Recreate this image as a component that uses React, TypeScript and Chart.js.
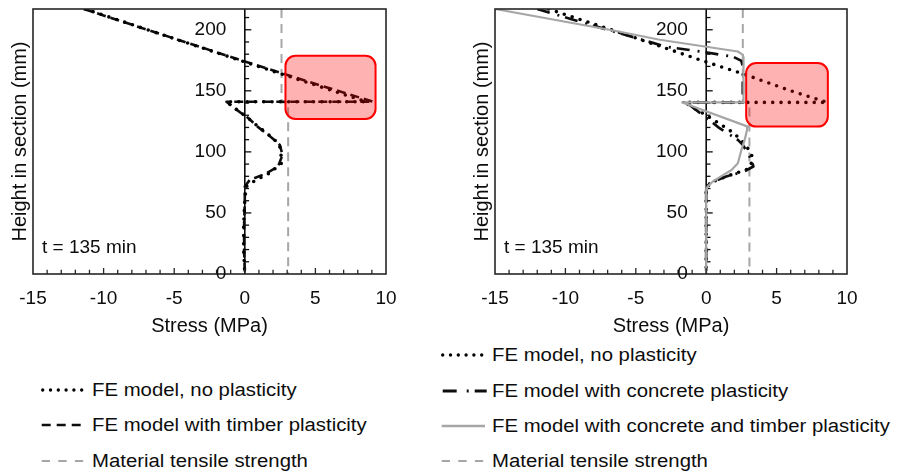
import React, { useEffect, useRef } from "react";
import { Chart, registerables } from "chart.js";

Chart.register(...registerables);

const FONT = "'Liberation Sans', Arial, Helvetica, sans-serif";
const INK = "#0d0d0d";
const GRAY = "#a6a6a6";

// ---------- axes ----------
const stressTicks = [-15, -10, -5, 0, 5, 10];
const heightTicks = [0, 50, 100, 150, 200];
const stressRange = [-15, 10];
const heightRange = [0, 217];
const timeNote = "t = 135 min";

// ---------- left panel ----------
const leftNoPlasticityHeight = [217, 200, 174, 160, 141, 141, 137, 131.7, 129, 120.7, 111.2, 105.7, 100.3, 90.7, 82.5, 77, 71.6, 60.7, 40, 20, 0];
const leftNoPlasticityStress = [-11.3, -6.9, -0.1, 3.6, 8.6, -1.3, -0.85, -0.25, 0.1, 0.95, 2.0, 2.45, 2.55, 2.6, 1.75, 0.8, 0.1, 0, -0.08, -0.08, 0];

const leftTimberHeight = [217, 200, 174, 160, 141, 141, 137, 131.7, 129, 120.7, 111.2, 105.7, 97.5, 88, 82.5, 77, 71.6, 60, 40, 20, 0];
const leftTimberStress = [-11.4, -6.9, 0.0, 3.8, 9.1, -1.3, -0.85, -0.25, 0.12, 0.9, 1.95, 2.48, 2.67, 2.36, 1.54, 0.35, 0, 0, -0.05, -0.05, 0];

const tensileHeight = [217, 140.5, 140.5, 0];
const tensileStress = [2.6, 2.6, 3.07, 3.07];

const leftBoxStress = [2.88, 9.26];
const leftBoxHeight = [127, 178.7];

// ---------- right panel ----------
const rightNoPlasticityHeight = [217, 196, 174, 163, 150, 140.5, 140.5, 136, 130, 122, 115, 107, 99, 93, 86, 82.5, 79.8, 75.7, 71, 50, 20, 0];
const rightNoPlasticityStress = [-11.2, -5.7, -0.1, 2.85, 6.0, 8.6, -1.5, -0.9, 0, 1.1, 2.0, 2.7, 3.2, 3.3, 3.0, 2.1, 1.4, 0.5, 0, 0, 0, 0];

const rightConcreteHeight = [217, 205, 186, 182, 178, 174.5, 170, 140.5, 140.5, 138.5, 129, 119.4, 109.8, 105.7, 98.9, 93.4, 88, 84, 79.8, 74.3, 70, 0];
const rightConcreteStress = [-12.0, -8.5, -2.8, -0.3, 1.9, 2.5, 2.6, 2.6, -1.6, -1.2, -0.1, 0.95, 2.25, 2.6, 2.96, 3.2, 3.35, 2.7, 1.42, 0.24, 0, 0];

const rightBothHeight = [217, 199, 191.8, 182.2, 179.5, 177, 140.5, 140.5, 120.7, 118, 109.8, 101.6, 90.7, 85.2, 81, 75.7, 71.6, 69, 0];
const rightBothStress = [-15, -6.4, -3.3, 2.25, 2.6, 2.65, 2.65, -1.7, 2.96, 2.9, 2.73, 2.5, 2.25, 1.8, 1.2, 0.47, 0.1, 0, 0];

const rightBoxStress = [2.84, 8.64];
const rightBoxHeight = [120.7, 172.7];

// ---------- legend labels ----------
const lblNoPlasticity = "FE model, no plasticity";
const lblTimber = "FE model with timber plasticity";
const lblConcrete = "FE model with concrete plasticity";
const lblBoth = "FE model with concrete and timber plasticity";
const lblTensile = "Material tensile strength";

const pts = (xs: number[], ys: number[]) => xs.map((x, i) => ({ x, y: ys[i] }));

const STYLE_DOTTED = { borderColor: "#000000", borderWidth: 3.6, borderDash: [0, 8.3], borderCapStyle: "round" };
const STYLE_DASHED = { borderColor: INK, borderWidth: 2.6, borderDash: [9, 5], borderCapStyle: "butt" };
const STYLE_DASHDOT = { borderColor: INK, borderWidth: 2.7, borderDash: [13, 8, 2, 6], borderCapStyle: "butt" };
const STYLE_GRAY = { borderColor: GRAY, borderWidth: 2.2, borderDash: [], borderCapStyle: "butt" };
const STYLE_TENSILE = { borderColor: GRAY, borderWidth: 2, borderDash: [9, 6], borderCapStyle: "butt" };

function ds(label: string, xs: number[], ys: number[], style: any) {
  return {
    label,
    data: pts(xs, ys),
    showLine: true,
    pointRadius: 0,
    pointHoverRadius: 0,
    fill: false,
    tension: 0,
    borderJoinStyle: "round",
    ...style,
  };
}

function roundRectPath(ctx: CanvasRenderingContext2D, x: number, y: number, w: number, h: number, r: number) {
  ctx.beginPath();
  ctx.moveTo(x + r, y);
  ctx.lineTo(x + w - r, y);
  ctx.arcTo(x + w, y, x + w, y + r, r);
  ctx.lineTo(x + w, y + h - r);
  ctx.arcTo(x + w, y + h, x + w - r, y + h, r);
  ctx.lineTo(x + r, y + h);
  ctx.arcTo(x, y + h, x, y + h - r, r);
  ctx.lineTo(x, y + r);
  ctx.arcTo(x, y, x + r, y, r);
  ctx.closePath();
}

function decorPlugin(boxStress: number[], boxHeight: number[]) {
  return {
    id: "decor",
    beforeDatasetsDraw(chart: any) {
      const { ctx, chartArea: a, scales } = chart;
      const sx = scales.x;
      const sy = scales.y;
      const x0 = sx.getPixelForValue(0);
      ctx.save();
      ctx.strokeStyle = INK;
      ctx.lineWidth = 1.6;
      ctx.beginPath();
      ctx.moveTo(x0, a.bottom);
      ctx.lineTo(x0, a.top);
      ctx.stroke();
      ctx.lineWidth = 1.3;
      for (let v = heightRange[0] + 10; v <= heightRange[1]; v += 10) {
        const py = sy.getPixelForValue(v);
        const len = v % 50 === 0 ? 6.5 : 4.3;
        ctx.beginPath();
        ctx.moveTo(x0, py);
        ctx.lineTo(x0 + len, py);
        ctx.stroke();
      }
      ctx.restore();
    },
    afterDatasetsDraw(chart: any) {
      const { ctx, chartArea: a, scales } = chart;
      const sx = scales.x;
      const sy = scales.y;
      const x0 = sx.getPixelForValue(0);
      ctx.save();
      // highlight box
      const bx1 = sx.getPixelForValue(boxStress[0]);
      const bx2 = sx.getPixelForValue(boxStress[1]);
      const by1 = sy.getPixelForValue(boxHeight[1]);
      const by2 = sy.getPixelForValue(boxHeight[0]);
      roundRectPath(ctx, bx1, by1, bx2 - bx1, by2 - by1, 10);
      ctx.fillStyle = "rgba(255,0,0,0.3)";
      ctx.fill();
      ctx.strokeStyle = "#ff0000";
      ctx.lineWidth = 2;
      ctx.stroke();
      // frame
      ctx.strokeStyle = "#262626";
      ctx.lineWidth = 1.6;
      ctx.strokeRect(a.left, a.top, a.right - a.left, a.bottom - a.top);
      // x tick marks (inside, from bottom)
      ctx.lineWidth = 1.3;
      for (let v = stressRange[0] + 1; v < stressRange[1]; v += 1) {
        const px = sx.getPixelForValue(v);
        const len = v % 5 === 0 ? 6 : 4.3;
        ctx.beginPath();
        ctx.moveTo(px, a.bottom);
        ctx.lineTo(px, a.bottom - len);
        ctx.stroke();
      }
      ctx.fillStyle = INK;
      ctx.textBaseline = "middle";
      // y tick labels, left of the zero-stress axis
      ctx.font = `19px ${FONT}`;
      ctx.textAlign = "right";
      for (const t of sy.ticks) {
        ctx.fillText(String(t.label ?? t.value), x0 - 18.5, sy.getPixelForValue(t.value));
      }
      // note
      ctx.textAlign = "left";
      ctx.fillText(timeNote, a.left + 9, a.bottom - 26);
      // x title
      ctx.font = `20px ${FONT}`;
      ctx.textAlign = "center";
      ctx.fillText("Stress (MPa)", (a.left + a.right) / 2, a.bottom + 52);
      // y title
      ctx.translate(a.left - 13, (a.top + a.bottom) / 2);
      ctx.rotate(-Math.PI / 2);
      ctx.fillText("Height in section (mm)", 0, 0);
      ctx.restore();
    },
  };
}

function makeConfig(datasets: any[], boxStress: number[], boxHeight: number[], padding: any) {
  const tickFont = { family: FONT, size: 19 };
  return {
    type: "scatter",
    data: { datasets },
    options: {
      animation: false,
      responsive: false,
      maintainAspectRatio: false,
      events: [],
      layout: { padding },
      plugins: { legend: { display: false }, tooltip: { enabled: false } },
      scales: {
        x: {
          type: "linear",
          axis: "x",
          position: { y: 0 },
          min: stressRange[0],
          max: stressRange[1],
          grid: { display: false, drawTicks: false },
          border: { display: false },
          ticks: { font: tickFont, color: INK, padding: 13, autoSkip: false, maxRotation: 0 },
          afterBuildTicks: (s: any) => {
            s.ticks = stressTicks.map((v) => ({ value: v }));
          },
        },
        y: {
          type: "linear",
          axis: "y",
          position: { x: 0 },
          min: heightRange[0],
          max: heightRange[1],
          grid: { display: false, drawTicks: false },
          border: { display: false },
          ticks: { display: false, font: tickFont, color: INK, autoSkip: false },
          afterBuildTicks: (s: any) => {
            s.ticks = heightTicks.map((v) => ({ value: v }));
          },
        },
      },
    },
    plugins: [decorPlugin(boxStress, boxHeight)],
  };
}

function useChart(ref: React.RefObject<HTMLCanvasElement>, build: () => any) {
  useEffect(() => {
    if (!ref.current) return;
    const chart = new Chart(ref.current, build());
    return () => chart.destroy();
  }, []);
}

type Sample = { color: string; width: number; dash: string; cap: "round" | "butt"; x1: number; x2: number };

const SMP_DOTTED: Sample = { color: "#000000", width: 3.4, dash: "0 7.8", cap: "round", x1: 1.7, x2: 41.5 };
const SMP_DASHED: Sample = { color: INK, width: 2.6, dash: "9 6", cap: "butt", x1: 0.7, x2: 40 };
const SMP_DASHDOT: Sample = { color: INK, width: 2.8, dash: "14 10 2 6", cap: "butt", x1: 1.7, x2: 45.7 };
const SMP_GRAY: Sample = { color: GRAY, width: 2.5, dash: "", cap: "butt", x1: 0.7, x2: 44 };
const SMP_TENSILE: Sample = { color: GRAY, width: 2.2, dash: "8.3 8.3", cap: "butt", x1: 0.7, x2: 43 };

function LegendItem({ left, cy, sample, text }: { left: number; cy: number; sample: Sample; text: string }) {
  return (
    <div
      style={{
        position: "absolute",
        left,
        top: cy - 10,
        height: 20,
        display: "flex",
        alignItems: "center",
        whiteSpace: "nowrap",
      }}
    >
      <svg width={50} height={10} style={{ display: "block", flex: "none" }}>
        <line
          x1={sample.x1}
          y1={5}
          x2={sample.x2}
          y2={5}
          stroke={sample.color}
          strokeWidth={sample.width}
          strokeDasharray={sample.dash || undefined}
          strokeLinecap={sample.cap}
        />
      </svg>
      <span
        style={{
          marginLeft: 0.7,
          fontFamily: FONT,
          fontSize: 18,
          lineHeight: "20px",
          color: INK,
          display: "inline-block",
          transform: "scaleX(1.13)",
          transformOrigin: "left center",
        }}
      >
        {text}
      </span>
    </div>
  );
}

export default function App() {
  const leftRef = useRef<HTMLCanvasElement>(null);
  const rightRef = useRef<HTMLCanvasElement>(null);

  useChart(leftRef, () =>
    makeConfig(
      [
        ds(lblNoPlasticity, leftNoPlasticityStress, leftNoPlasticityHeight, STYLE_DOTTED),
        ds(lblTimber, leftTimberStress, leftTimberHeight, STYLE_DASHED),
        ds(lblTensile, tensileStress, tensileHeight, STYLE_TENSILE),
      ],
      leftBoxStress,
      leftBoxHeight,
      { left: 33, right: 64, top: 9, bottom: 66 }
    )
  );

  useChart(rightRef, () =>
    makeConfig(
      [
        ds(lblBoth, rightBothStress, rightBothHeight, STYLE_GRAY),
        ds(lblConcrete, rightConcreteStress, rightConcreteHeight, STYLE_DASHDOT),
        ds(lblNoPlasticity, rightNoPlasticityStress, rightNoPlasticityHeight, STYLE_DOTTED),
        ds(lblTensile, tensileStress, tensileHeight, STYLE_TENSILE),
      ],
      rightBoxStress,
      rightBoxHeight,
      { left: 45, right: 52, top: 9, bottom: 66 }
    )
  );

  return (
    <div
      style={{
        position: "fixed",
        left: 0,
        top: 0,
        width: 899,
        height: 475,
        background: "#ffffff",
        overflow: "hidden",
      }}
    >
      <canvas
        ref={leftRef}
        width={450}
        height={340}
        style={{ position: "absolute", left: 0, top: 0, width: 450, height: 340 }}
      />
      <canvas
        ref={rightRef}
        width={449}
        height={340}
        style={{ position: "absolute", left: 450, top: 0, width: 449, height: 340 }}
      />
      <LegendItem left={41} cy={389.5} sample={SMP_DOTTED} text={lblNoPlasticity} />
      <LegendItem left={41} cy={424.5} sample={SMP_DASHED} text={lblTimber} />
      <LegendItem left={41} cy={461} sample={SMP_TENSILE} text={lblTensile} />
      <LegendItem left={441} cy={354.5} sample={SMP_DOTTED} text={lblNoPlasticity} />
      <LegendItem left={441} cy={391} sample={SMP_DASHDOT} text={lblConcrete} />
      <LegendItem left={441} cy={426} sample={SMP_GRAY} text={lblBoth} />
      <LegendItem left={441} cy={461} sample={SMP_TENSILE} text={lblTensile} />
    </div>
  );
}
